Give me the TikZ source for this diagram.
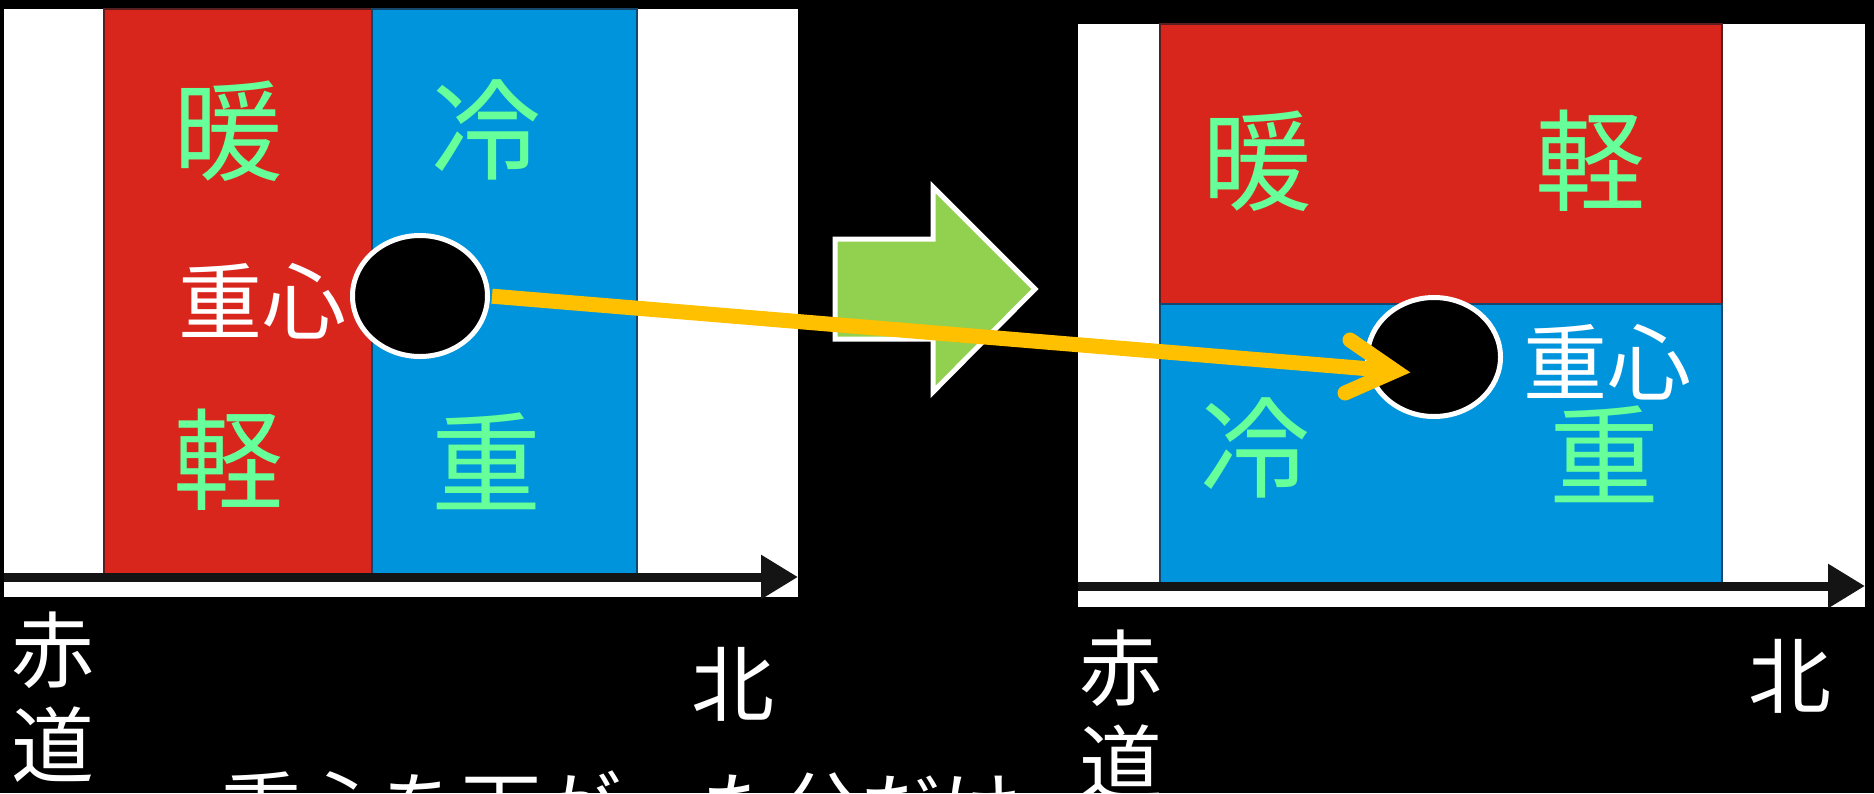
\documentclass[tikz,border=0pt]{standalone}
\usepackage{fontspec}
\newfontfamily\jp{Noto Sans CJK JP}
\usetikzlibrary{shapes.geometric,arrows.meta}
\definecolor{rd}{RGB}{217,38,29}
\definecolor{rdb}{RGB}{90,30,30}
\definecolor{bl}{RGB}{0,148,220}
\definecolor{blb}{RGB}{20,70,110}
\definecolor{gt}{RGB}{102,255,153}
\definecolor{ga}{RGB}{146,208,80}
\definecolor{yl}{RGB}{255,192,0}
\definecolor{axc}{RGB}{20,20,20}
\begin{document}
\begin{tikzpicture}[x=1pt,y=-1pt,
  gtxt/.style={text=gt,font=\jp\fontsize{110}{110}\selectfont,inner sep=0pt},
  wtxt/.style={text=white,font=\jp\fontsize{84}{84}\selectfont,inner sep=0pt},
  captxt/.style={text=white,font=\jp\fontsize{80}{80}\selectfont,inner sep=0pt},
  lbl/.style={text=white,font=\jp\fontsize{83}{95}\selectfont,inner sep=0pt,align=center},
  panel/.style={fill=white},
  warm/.style={fill=rd,draw=rdb,line width=1.5pt},
  cold/.style={fill=bl,draw=blb,line width=1.5pt},
  axisline/.style={draw=axc,line width=9pt,-{Triangle[length=37pt,width=42pt]}},
  blob/.style={ellipse,fill=black,draw=white,line width=5pt,inner sep=0pt},
  bigarrow/.style={fill=ga,draw=white,line width=5pt,line join=miter},
  yshaft/.style={draw=yl,line width=15pt,line cap=butt},
  yhead/.style={draw=yl,line width=15pt,line cap=round,line join=miter}]
\fill[black] (0,0) rectangle (1874,793);
\useasboundingbox (0,0) rectangle (1874,793);
\clip (0,0) rectangle (1874,793);

% ---------- left panel ----------
\fill[panel] (4,9) rectangle (798,597);
\draw[warm] (104,9) rectangle (372,575);
\draw[cold] (372,9) rectangle (637,575);
\coordinate (la0) at (4,577);
\coordinate (la1) at (798,577);
\draw[axisline] (la0) -- (la1);

\node[gtxt] (l1) at (228,131) {暖};
\node[gtxt] (l2) at (486,130) {冷};
\node[gtxt] (l3) at (228,460) {軽};
\node[gtxt] (l4) at (486,461) {重};
\node[wtxt] (l5) at (262,301) {重心};

% ---------- right panel ----------
\fill[panel] (1078,24) rectangle (1865,607);
\draw[warm] (1160,24) rectangle (1722,304);
\draw[cold] (1160,304) rectangle (1722,583);
\coordinate (ra0) at (1078,586);
\coordinate (ra1) at (1865,586);
\draw[axisline] (ra0) -- (ra1);

\node[gtxt] (r1) at (1257,161) {暖};
\node[gtxt] (r2) at (1590,161) {軽};
\node[gtxt] (r3) at (1255,448) {冷};
\node[gtxt] (r4) at (1604,454) {重};
\node[wtxt] (r5) at (1607,362) {重心};

% ---------- axis labels ----------
\node[lbl] (la) at (53,697) {赤\\道};
\node[lbl] (lb) at (733,684) {北};
\node[lbl] (ra) at (1121,715) {赤\\道};
\node[lbl] (rb) at (1790,676) {北};

% ---------- bottom caption (cut off by the edge) ----------
\node[captxt,anchor=west] (cap) at (221,808) {重心を下がった分だけ};

% ---------- centres of gravity ----------
\node[blob,minimum width=135pt,minimum height=121pt] (lc) at (420,296) {};
\node[blob,minimum width=133pt,minimum height=119pt] (rc) at (1434,357) {};

% ---------- green block arrow ----------
\draw[bigarrow] (835,239) -- (933,239) -- (933,187) -- (1035,289)
  -- (933,392) -- (933,339) -- (835,339) -- cycle;

% ---------- yellow arrow ----------
\coordinate (tipv) at (1395,371);
\draw[yshaft,shorten <=2pt] (lc.east) -- (tipv);
\draw[yhead] (tipv) ++(-45,-31) -- (tipv) -- ++(-50,22);
\end{tikzpicture}
\end{document}
